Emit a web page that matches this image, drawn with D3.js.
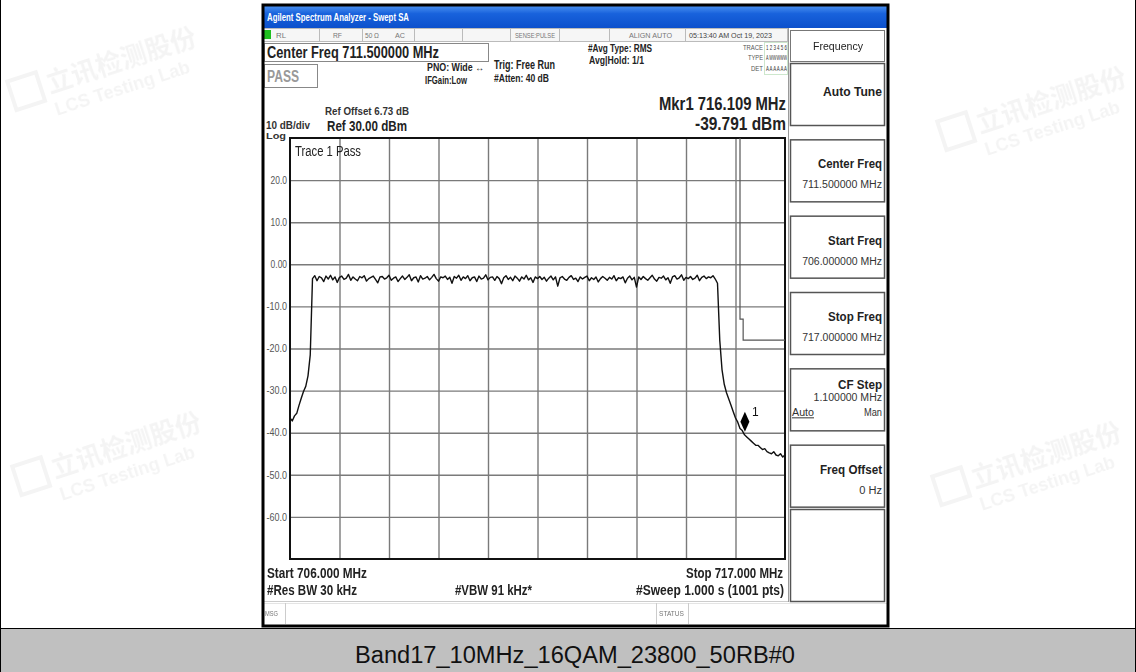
<!DOCTYPE html>
<html lang="en">
  <head>
    <meta charset="UTF-8" />
    <title>Band17 spectrum</title>
    <style>
      body {
        margin: 0;
        background: #fff;
      }
      svg text {
        font-family: "Liberation Sans", Arial, sans-serif;
      }
    </style>
  </head>
  <body>
    <svg width="1136" height="672" id="chart"></svg>

    <script src="https://d3js.org/d3.v7.min.js"></script>
    <script>
      // sweep settings
      var startFreq = 706.0,
        stopFreq = 717.0,
        refLevel = 30,
        bottomLevel = -70;

      var yTicks = [20, 10, 0, -10, -20, -30, -40, -50, -60];
      var yTickLabels = ["20.0", "10.0", "0.00", "-10.0", "-20.0", "-30.0", "-40.0", "-50.0", "-60.0"];

      // trace 1, dBm, every 0.05 MHz from 706 to 717
      var traceDbm = [
        -36.5, -37.2, -36.0, -35.4, -33.5, -31.8, -30.2, -29.0, -26.5, -21.5,
        -3.4, -2.7, -3.9, -2.9, -3.2, -4.1, -2.8, -3.5, -2.6, -3.7, -3.0, -4.3, -3.1, -2.8, -3.6, -3.3, -2.4, -3.8, -3.0, -3.5,
        -3.9, -2.9, -3.2, -2.7, -4.0, -3.4, -3.1, -2.8, -3.6, -4.4, -3.0, -2.9, -3.5, -3.2, -2.6, -3.8, -3.3, -3.0, -4.1, -3.4,
        -2.8, -3.6, -3.1, -2.5, -3.9, -3.2, -3.0, -4.2, -2.7, -3.5, -3.3, -2.9, -3.7, -3.1, -2.4, -3.4, -4.0, -3.0, -3.2, -2.8,
        -3.6, -3.1, -4.5, -2.9, -3.3, -2.6, -3.8, -3.0, -3.4, -2.7, -3.9, -3.2, -3.0, -4.1, -2.8, -3.5, -3.3, -2.5, -3.7, -3.1,
        -3.0, -3.8, -2.9, -3.4, -4.6, -3.2, -2.7, -3.6, -3.1, -3.9, -2.8, -3.3, -4.0, -3.0, -3.5, -2.6, -3.7, -3.2, -4.3, -3.0,
        -3.4, -2.9, -3.6, -3.1, -4.0, -3.3, -2.8, -3.7, -3.0, -5.2, -3.2, -2.9, -3.5, -3.8, -3.1, -2.7, -3.6, -3.3, -4.1, -3.0,
        -3.5, -3.1, -2.8, -3.9, -3.2, -3.6, -3.0, -4.2, -3.4, -2.9, -3.3, -3.8, -3.1, -3.5, -2.7, -3.9, -3.2, -3.4, -3.0, -4.4,
        -3.3, -2.8, -3.7, -3.1, -5.4, -3.0, -3.6, -2.9, -3.4, -3.8, -3.2, -2.6, -3.5, -4.0, -3.1, -3.3, -2.8, -3.7, -3.2, -4.5,
        -3.0, -2.7, -3.5, -3.2, -2.5, -3.8, -3.1, -3.4, -2.9, -3.6, -3.3, -2.6, -3.9, -3.1, -2.8, -3.4, -3.0, -3.2, -2.7, -3.5,
        -4.5, -18.0, -25.0, -28.5, -30.5, -32.0, -33.5, -35.0, -36.5, -37.5, -39.0,
        -39.5, -40.5, -41.0, -41.5, -42.0, -42.5, -43.0, -43.0, -43.5, -44.0,
        -43.8, -44.5, -44.8, -45.0, -44.5, -45.3, -45.5, -45.0, -45.8, -45.2
      ];

      // limit line (freq MHz, level dBm)
      var limitFreq = [716.0, 716.0, 716.07, 716.07, 717.0];
      var limitDbm = [30, -13, -13, -18, -18];

      var markerFreq = 716.109,
        markerDbm = -39.791;

      var softKeys = [
        { title: "Auto Tune", tw: 59, lines: [] },
        { title: "Center Freq", tw: 64, lines: ["711.500000 MHz"] },
        { title: "Start Freq", tw: 54, lines: ["706.000000 MHz"] },
        { title: "Stop Freq", tw: 54, lines: ["717.000000 MHz"] },
        { title: "CF Step", tw: 44, lines: ["1.100000 MHz"], autoMan: true },
        { title: "Freq Offset", tw: 62, lines: ["0 Hz"] }
      ];

      var caption = "Band17_10MHz_16QAM_23800_50RB#0";

      var svg = d3.select("#chart");

      // text helper: squeeze text to the width seen on screen (the analyzer font is narrow)
      function label(g, x, y, s, size, width, anchor) {
        var t = g.append("text").attr("x", x).attr("y", y).attr("font-size", size).text(s);
        if (anchor) t.attr("text-anchor", anchor);
        if (width) t.attr("textLength", width).attr("lengthAdjust", "spacingAndGlyphs");
        return t;
      }

      // ---- page frame & watermarks ----
      var wm = svg.append("g").attr("fill", "#000").attr("opacity", 0.045);
      [
        [105, 75],
        [110, 460],
        [1035, 115],
        [1030, 470]
      ].forEach(function (p) {
        var g = wm.append("g").attr("transform", "translate(" + p[0] + "," + p[1] + ") rotate(-18)");
        g.append("rect").attr("x", -95).attr("y", -24).attr("width", 30).attr("height", 30).attr("fill", "none").attr("stroke", "#000").attr("stroke-width", 4);
        g.append("text").attr("x", -58).attr("y", 0).attr("font-size", 26).attr("font-weight", "bold").style("font-family", "Noto Sans CJK SC").text("立讯检测股份");
        g.append("text").attr("x", -58).attr("y", 24).attr("font-size", 18).attr("font-weight", "bold").text("LCS Testing Lab");
      });

      svg.append("rect").attr("x", 0).attr("y", 628).attr("width", 1136).attr("height", 44).attr("fill", "#c0c0c0");
      svg.append("line").attr("x1", 0).attr("x2", 1136).attr("y1", 628.5).attr("y2", 628.5).attr("stroke", "#000");
      svg.append("line").attr("x1", 0.5).attr("x2", 0.5).attr("y1", 0).attr("y2", 672).attr("stroke", "#000");
      svg.append("line").attr("x1", 1135.5).attr("x2", 1135.5).attr("y1", 0).attr("y2", 672).attr("stroke", "#000");
      label(svg, 575, 663, caption, 23, 440, "middle").attr("fill", "#111");

      // ---- analyzer screen ----
      var scr = svg.append("g");
      scr.append("rect").attr("x", 263).attr("y", 6).attr("width", 625).attr("height", 620).attr("fill", "#fff");

      var grad = svg.append("defs").append("linearGradient").attr("id", "tb").attr("x1", 0).attr("x2", 0).attr("y1", 0).attr("y2", 1);
      grad.append("stop").attr("offset", "0%").attr("stop-color", "#4a90f0");
      grad.append("stop").attr("offset", "35%").attr("stop-color", "#1862dc");
      grad.append("stop").attr("offset", "100%").attr("stop-color", "#0c50cc");
      scr.append("rect").attr("x", 263).attr("y", 6).attr("width", 625).attr("height", 22).attr("fill", "url(#tb)");
      label(scr, 267, 21, "Agilent Spectrum Analyzer - Swept SA", 10, 142).attr("fill", "#fff").attr("font-weight", "bold");

      // status row
      scr.append("rect").attr("x", 263.5).attr("y", 28.5).attr("width", 524).attr("height", 13).attr("fill", "#f6f6f6").attr("stroke", "#bbb");
      [319, 362, 414, 462, 510, 559, 609, 685].forEach(function (x) {
        scr.append("line").attr("x1", x + 0.5).attr("x2", x + 0.5).attr("y1", 28).attr("y2", 41).attr("stroke", "#bbb");
      });
      scr.append("rect").attr("x", 264).attr("y", 30).attr("width", 7).attr("height", 9).attr("fill", "#1fbf1f");
      var st = scr.append("g").attr("fill", "#777");
      label(st, 276, 38, "RL", 8, 10);
      label(st, 333, 38, "RF", 7.5, 9);
      label(st, 365, 38, "50 Ω", 7.5, 14);
      label(st, 395, 38, "AC", 7.5, 10);
      label(st, 515, 38, "SENSE:PULSE", 7.5, 40);
      label(st, 629, 38, "ALIGN AUTO", 7.5, 43);
      label(st, 689, 38, "05:13:40 AM Oct 19, 2023", 8, 83).attr("fill", "#444");

      // measurement header
      scr.append("rect").attr("x", 264.5).attr("y", 43.5).attr("width", 224).attr("height", 18).attr("fill", "#fff").attr("stroke", "#888");
      label(scr, 267, 58, "Center Freq 711.500000 MHz", 16, 172).attr("font-weight", "bold").attr("fill", "#222");
      scr.append("rect").attr("x", 264.5).attr("y", 64.5).attr("width", 53).attr("height", 23).attr("fill", "#fff").attr("stroke", "#888");
      label(scr, 267, 82, "PASS", 16, 32).attr("font-weight", "bold").attr("fill", "#999");

      var hd = scr.append("g").attr("font-weight", "bold").attr("fill", "#222");
      label(hd, 427, 71, "PNO: Wide ↔", 10, 57);
      label(hd, 425, 84, "IFGain:Low", 10, 42);
      label(hd, 494, 69, "Trig: Free Run", 12, 61);
      label(hd, 494, 82, "#Atten: 40 dB", 11, 55);
      label(hd, 588, 52, "#Avg Type: RMS", 11, 64);
      label(hd, 589, 64, "Avg|Hold: 1/1", 11, 55);

      var tr = scr.append("g").attr("fill", "#555");
      label(tr, 763, 50, "TRACE", 7, 20, "end");
      label(tr, 763, 60, "TYPE", 7, 15, "end");
      label(tr, 763, 71, "DET", 7, 12, "end");
      scr.append("rect").attr("x", 764.5).attr("y", 42.5).attr("width", 23).attr("height", 32).attr("fill", "none").attr("stroke", "#cde7cd");
      label(tr, 766, 50, "1 2 3 4 5 6", 8, 21).attr("fill", "#333");
      label(tr, 766, 60, "A WWWWW", 7, 21).attr("fill", "#333");
      label(tr, 766, 71, "A A A A A A", 8, 21).attr("fill", "#333");

      label(scr, 786, 110, "Mkr1 716.109 MHz", 18, 127, "end").attr("font-weight", "bold").attr("fill", "#222");
      label(scr, 786, 130, "-39.791 dBm", 18, 91, "end").attr("font-weight", "bold").attr("fill", "#222");

      label(scr, 325, 115, "Ref Offset 6.73 dB", 11, 84).attr("font-weight", "bold").attr("fill", "#333");
      label(scr, 266, 129, "10 dB/div", 10, 44).attr("font-weight", "bold").attr("fill", "#333");
      label(scr, 327, 131, "Ref 30.00 dBm", 15, 80).attr("font-weight", "bold").attr("fill", "#222");
      label(scr, 266, 139, "Log", 9, 20).attr("font-weight", "bold").attr("fill", "#333");

      // ---- graticule ----
      var x = d3.scaleLinear().domain([startFreq, stopFreq]).range([290, 785]);
      var y = d3.scaleLinear().domain([bottomLevel, refLevel]).range([559, 138]);

      var plot = scr.append("g");
      var xDiv = d3.range(1, 10).map(function (i) { return startFreq + (i * (stopFreq - startFreq)) / 10; });

      plot.append("g")
        .attr("transform", "translate(0,559)")
        .call(d3.axisBottom(x).tickValues(xDiv).tickSize(-421).tickFormat(""))
        .call(function (g) {
          g.select(".domain").remove();
          g.selectAll("line").attr("stroke", "#7a7a7a").attr("stroke-width", 1.4);
        });

      plot.append("g")
        .attr("transform", "translate(290,0)")
        .call(d3.axisLeft(y).tickValues(yTicks).tickSize(-495).tickPadding(3).tickFormat(function (d, i) { return yTickLabels[i]; }))
        .call(function (g) {
          g.select(".domain").remove();
          g.selectAll("line").attr("stroke", "#7a7a7a").attr("stroke-width", 1.4);
          g.selectAll("text").attr("font-size", 10).attr("fill", "#555").attr("font-family", null)
            .attr("textLength", function (d, i) { return yTickLabels[i].length * 4.1; })
            .attr("lengthAdjust", "spacingAndGlyphs");
        });

      plot.append("rect").attr("x", 290).attr("y", 138).attr("width", 495).attr("height", 421).attr("fill", "none").attr("stroke", "#111").attr("stroke-width", 2);

      label(plot, 295, 156, "Trace 1 Pass", 14, 66).attr("fill", "#222");

      // limit line
      var limitLine = d3.line()
        .x(function (d, i) { return x(limitFreq[i]); })
        .y(function (d) { return y(d); });
      plot.append("path").attr("d", limitLine(limitDbm)).attr("fill", "none").attr("stroke", "#555").attr("stroke-width", 1.2);

      // trace
      var step = (stopFreq - startFreq) / (traceDbm.length - 1);
      var traceLine = d3.line()
        .x(function (d, i) { return x(startFreq + i * step); })
        .y(function (d) { return y(d); });
      plot.append("path").attr("d", traceLine(traceDbm)).attr("fill", "none").attr("stroke", "#111").attr("stroke-width", 1.4).attr("stroke-linejoin", "round");

      // marker 1
      var mx = x(markerFreq), my = y(markerDbm);
      plot.append("path")
        .attr("d", "M" + mx + "," + my + " l-4.5,-10 l4.5,-10 l4.5,10 z")
        .attr("fill", "#000");
      plot.append("text").attr("x", mx + 7).attr("y", my - 16).attr("font-size", 12).attr("fill", "#111").text("1");

      // ---- bottom annotations ----
      var bt = scr.append("g").attr("font-weight", "bold").attr("fill", "#222");
      label(bt, 267, 578, "Start 706.000 MHz", 14, 100);
      label(bt, 267, 595, "#Res BW 30 kHz", 14, 90);
      label(bt, 455, 595, "#VBW 91 kHz*", 14, 77);
      label(bt, 783, 578, "Stop 717.000 MHz", 14, 97, "end");
      label(bt, 784, 595, "#Sweep  1.000 s (1001 pts)", 14, 148, "end");

      scr.append("line").attr("x1", 263).attr("x2", 788).attr("y1", 601.5).attr("y2", 601.5).attr("stroke", "#ccc");
      scr.append("line").attr("x1", 263).attr("x2", 888).attr("y1", 603.5).attr("y2", 603.5).attr("stroke", "#e4e4e4");
      [285, 656, 688].forEach(function (xx) {
        scr.append("line").attr("x1", xx + 0.5).attr("x2", xx + 0.5).attr("y1", 603).attr("y2", 624).attr("stroke", "#ccc");
      });
      label(scr, 265, 616, "MSG", 7, 13).attr("fill", "#777");
      label(scr, 659, 616, "STATUS", 7, 25).attr("fill", "#777");

      // ---- soft key panel ----
      scr.append("line").attr("x1", 788.5).attr("x2", 788.5).attr("y1", 28).attr("y2", 602).attr("stroke", "#999");
      var pnl = scr.append("g");
      pnl.append("rect").attr("x", 790.5).attr("y", 30.5).attr("width", 94).attr("height", 31).attr("fill", "#fff").attr("stroke", "#777");
      label(pnl, 838, 50, "Frequency", 11, 50, "middle").attr("fill", "#222");

      var keyTop = d3.scaleLinear().domain([0, softKeys.length]).range([63, 521]);
      var keys = pnl.selectAll("g.key").data(softKeys).join("g").attr("class", "key")
        .attr("transform", function (d, i) { return "translate(790," + keyTop(i) + ")"; });
      keys.append("rect").attr("x", 0.5).attr("y", 0.5).attr("width", 94).attr("height", 62).attr("fill", "#fff").attr("stroke", "#555").attr("stroke-width", 1.5);
      keys.append("text").attr("x", 92).attr("y", 33).attr("text-anchor", "end").attr("font-size", 13).attr("font-weight", "bold").attr("fill", "#222")
        .attr("dy", function (d) { return d.lines.length ? (d.autoMan ? -12 : -4) : 0; })
        .attr("textLength", function (d) { return d.tw; })
        .attr("lengthAdjust", "spacingAndGlyphs")
        .text(function (d) { return d.title; });
      keys.append("text").attr("x", 92).attr("y", 33).attr("text-anchor", "end").attr("font-size", 10).attr("fill", "#333")
        .attr("dy", function (d) { return d.autoMan ? 0 : 16; })
        .attr("textLength", function (d) { return d.lines.length ? d.lines[0].length * 5.7 : null; })
        .attr("lengthAdjust", "spacingAndGlyphs")
        .text(function (d) { return d.lines[0] || ""; });
      keys.filter(function (d) { return d.autoMan; }).each(function () {
        var g = d3.select(this);
        label(g, 2, 48, "Auto", 10, 22).attr("fill", "#333").attr("text-decoration", "underline");
        label(g, 92, 48, "Man", 10, 18, "end").attr("fill", "#333");
      });
      pnl.append("rect").attr("x", 790.5).attr("y", 509.5).attr("width", 94).attr("height", 92).attr("fill", "#fff").attr("stroke", "#555").attr("stroke-width", 1.5);

      // screenshot frame
      scr.append("rect").attr("x", 263).attr("y", 5).attr("width", 625).attr("height", 621).attr("fill", "none").attr("stroke", "#000").attr("stroke-width", 3);
    </script>
  </body>
</html>
